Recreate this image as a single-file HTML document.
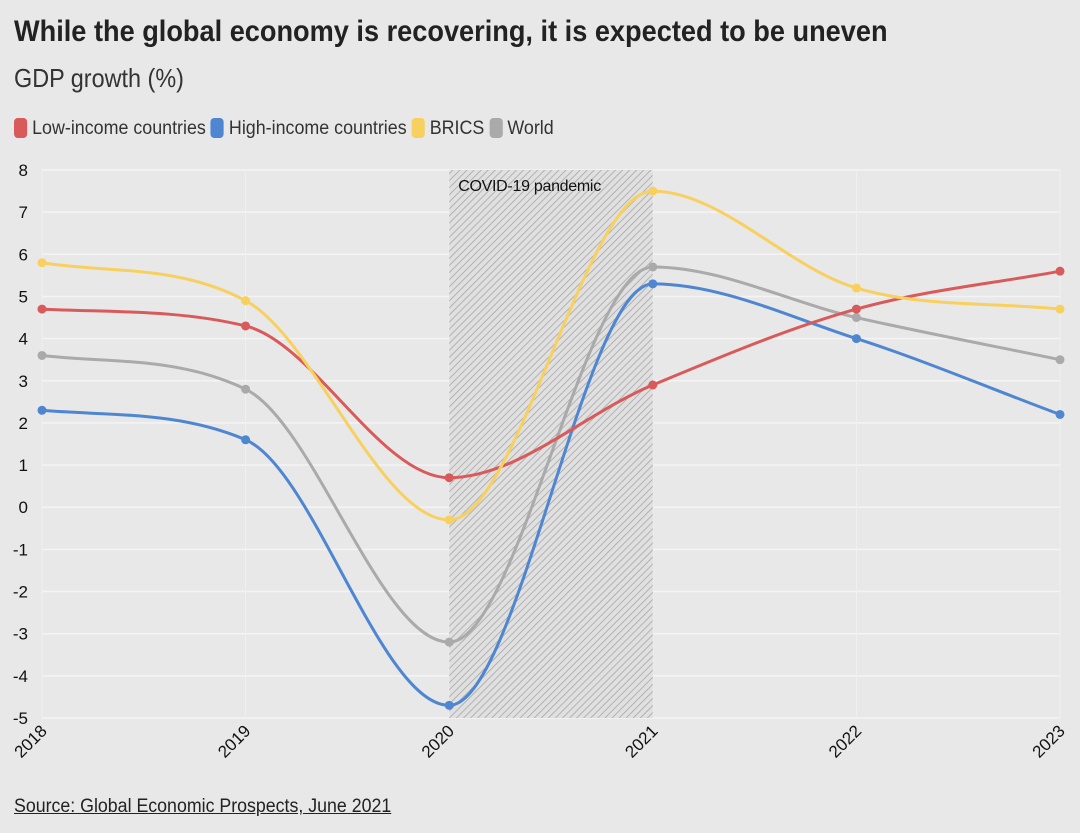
<!DOCTYPE html>
<html><head><meta charset="utf-8"><style>
body{margin:0;background:#e8e8e8;font-family:"Liberation Sans",sans-serif;}
#wrap{position:relative;width:1080px;height:833px;overflow:hidden;background:#e8e8e8}
.t{position:absolute;white-space:nowrap;transform-origin:0 0}
</style></head><body>
<div id="wrap">
<div class="t" style="left:14px;top:15px;font-size:30px;font-weight:bold;color:#222;transform:scaleX(0.905)">While the global economy is recovering, it is expected to be uneven</div>
<div class="t" style="left:14px;top:63px;font-size:26px;color:#333;transform:scaleX(0.9)">GDP growth (%)</div>
<div class="t" style="left:14px;top:118px;font-size:19px;color:#333;transform:scaleX(0.94)">
<span><span style="display:inline-block;width:14px;height:20px;background:#d95a5a;border-radius:4px;vertical-align:-4px"></span> Low-income countries</span>
<span><span style="display:inline-block;width:14px;height:20px;background:#4f86d1;border-radius:4px;vertical-align:-4px"></span> High-income countries</span>
<span><span style="display:inline-block;width:14px;height:20px;background:#f8d060;border-radius:4px;vertical-align:-4px"></span> BRICS</span>
<span><span style="display:inline-block;width:14px;height:20px;background:#aaa;border-radius:4px;vertical-align:-4px"></span> World</span>
</div>
<svg id="chart" width="1080" height="833" style="position:absolute;left:0;top:0">
<defs><pattern id="hatch" width="5" height="5" patternUnits="userSpaceOnUse" patternTransform="rotate(45)"><rect width="5" height="5" fill="#e0e0e0"/><line x1="0" y1="0" x2="0" y2="5" stroke="#aaaaaa" stroke-width="1.7"/></pattern></defs>
</svg>
<div class="t" style="left:14px;top:796px;font-size:19px;color:#222;text-decoration:underline;transform:scaleX(0.935)">Source: Global Economic Prospects, June 2021</div>
</div>
<script>
const years=["2018","2019","2020","2021","2022","2023"];
const lowIncome=[4.7,4.3,0.7,2.9,4.7,5.6];
const highIncome=[2.3,1.6,-4.7,5.3,4.0,2.2];
const brics=[5.8,4.9,-0.3,7.5,5.2,4.7];
const world=[3.6,2.8,-3.2,5.7,4.5,3.5];
const yTicks=[8,7,6,5,4,3,2,1,0,-1,-2,-3,-4,-5];
const shadeStart="2020", shadeEnd="2021";
const NS="http://www.w3.org/2000/svg";
const svg=document.getElementById('chart');
const x0=42,x1=1060,yTop=170,yBot=718,ymin=-5,ymax=8;
const xs=i=>x0+(x1-x0)*i/(years.length-1);
const ys=v=>yBot-(v-ymin)/(ymax-ymin)*(yBot-yTop);
function mk(t,a){const e=document.createElementNS(NS,t);for(const k in a)e.setAttribute(k,a[k]);svg.appendChild(e);return e;}
yTicks.forEach(v=>{
 const l=mk('line',{x1:x0,x2:x1,y1:ys(v),y2:ys(v),stroke:'#f4f4f4','stroke-width':1.5});
 
 
 const t=mk('text',{x:28,y:ys(v)+6,'text-anchor':'end','font-size':17,fill:'#111'});
 t.textContent=v;
 
 
});
years.forEach((y,i)=>{
 const l=mk('line',{x1:xs(i),x2:xs(i),y1:yTop,y2:yBot,stroke:'#f0f0f0','stroke-width':1});
 
 
 const t=mk('text',{x:0,y:0,'text-anchor':'end','font-size':17,fill:'#111',transform:`translate(${xs(i)+6},${yBot+14}) rotate(-45)`});
 t.textContent=y;
 
 
});
const sa=xs(years.indexOf(shadeStart)),sb=xs(years.indexOf(shadeEnd));
const r=mk('rect',{x:sa,y:yTop,width:sb-sa,height:yBot-yTop,fill:'url(#hatch)'});


const st=mk('text',{x:sa+9,y:yTop+21,'font-size':16,fill:'#111',textLength:143});
st.textContent='COVID-19 pandemic';


function monotone(pts){
 const n=pts.length,d=[],m=[];
 for(let i=0;i<n-1;i++)d.push((pts[i+1][1]-pts[i][1])/(pts[i+1][0]-pts[i][0]));
 for(let i=0;i<n;i++){
  if(i==0)m.push(d[0]);else if(i==n-1)m.push(d[n-2]);
  else m.push(d[i-1]*d[i]<=0?0:(d[i-1]+d[i])/2);
 }
 for(let i=0;i<n-1;i++){if(d[i]==0){m[i]=m[i+1]=0;continue;}const a=m[i]/d[i],b=m[i+1]/d[i],s=a*a+b*b;if(s>9){const t=3/Math.sqrt(s);m[i]=t*a*d[i];m[i+1]=t*b*d[i];}}
 let p=`M${pts[0][0]},${pts[0][1]}`;
 for(let i=0;i<n-1;i++){const h=(pts[i+1][0]-pts[i][0])/3;
  p+=`C${pts[i][0]+h},${pts[i][1]+m[i]*h} ${pts[i+1][0]-h},${pts[i+1][1]-m[i+1]*h} ${pts[i+1][0]},${pts[i+1][1]}`;}
 return p;
}
const series=[["world",world,"#aaaaaa"],["high-income",highIncome,"#4f86d1"],["low-income",lowIncome,"#d95a5a"],["brics",brics,"#f8d060"]];
series.forEach(([nm,vals,c])=>{
 const pts=vals.map((v,i)=>[xs(i),ys(v)]);
 const p=mk('path',{d:monotone(pts),fill:'none',stroke:c,'stroke-width':3});
 
 
 pts.forEach(q=>{const ci=mk('circle',{cx:q[0],cy:q[1],r:4.5,fill:c});
  
  });
});
</script>
</body></html>
